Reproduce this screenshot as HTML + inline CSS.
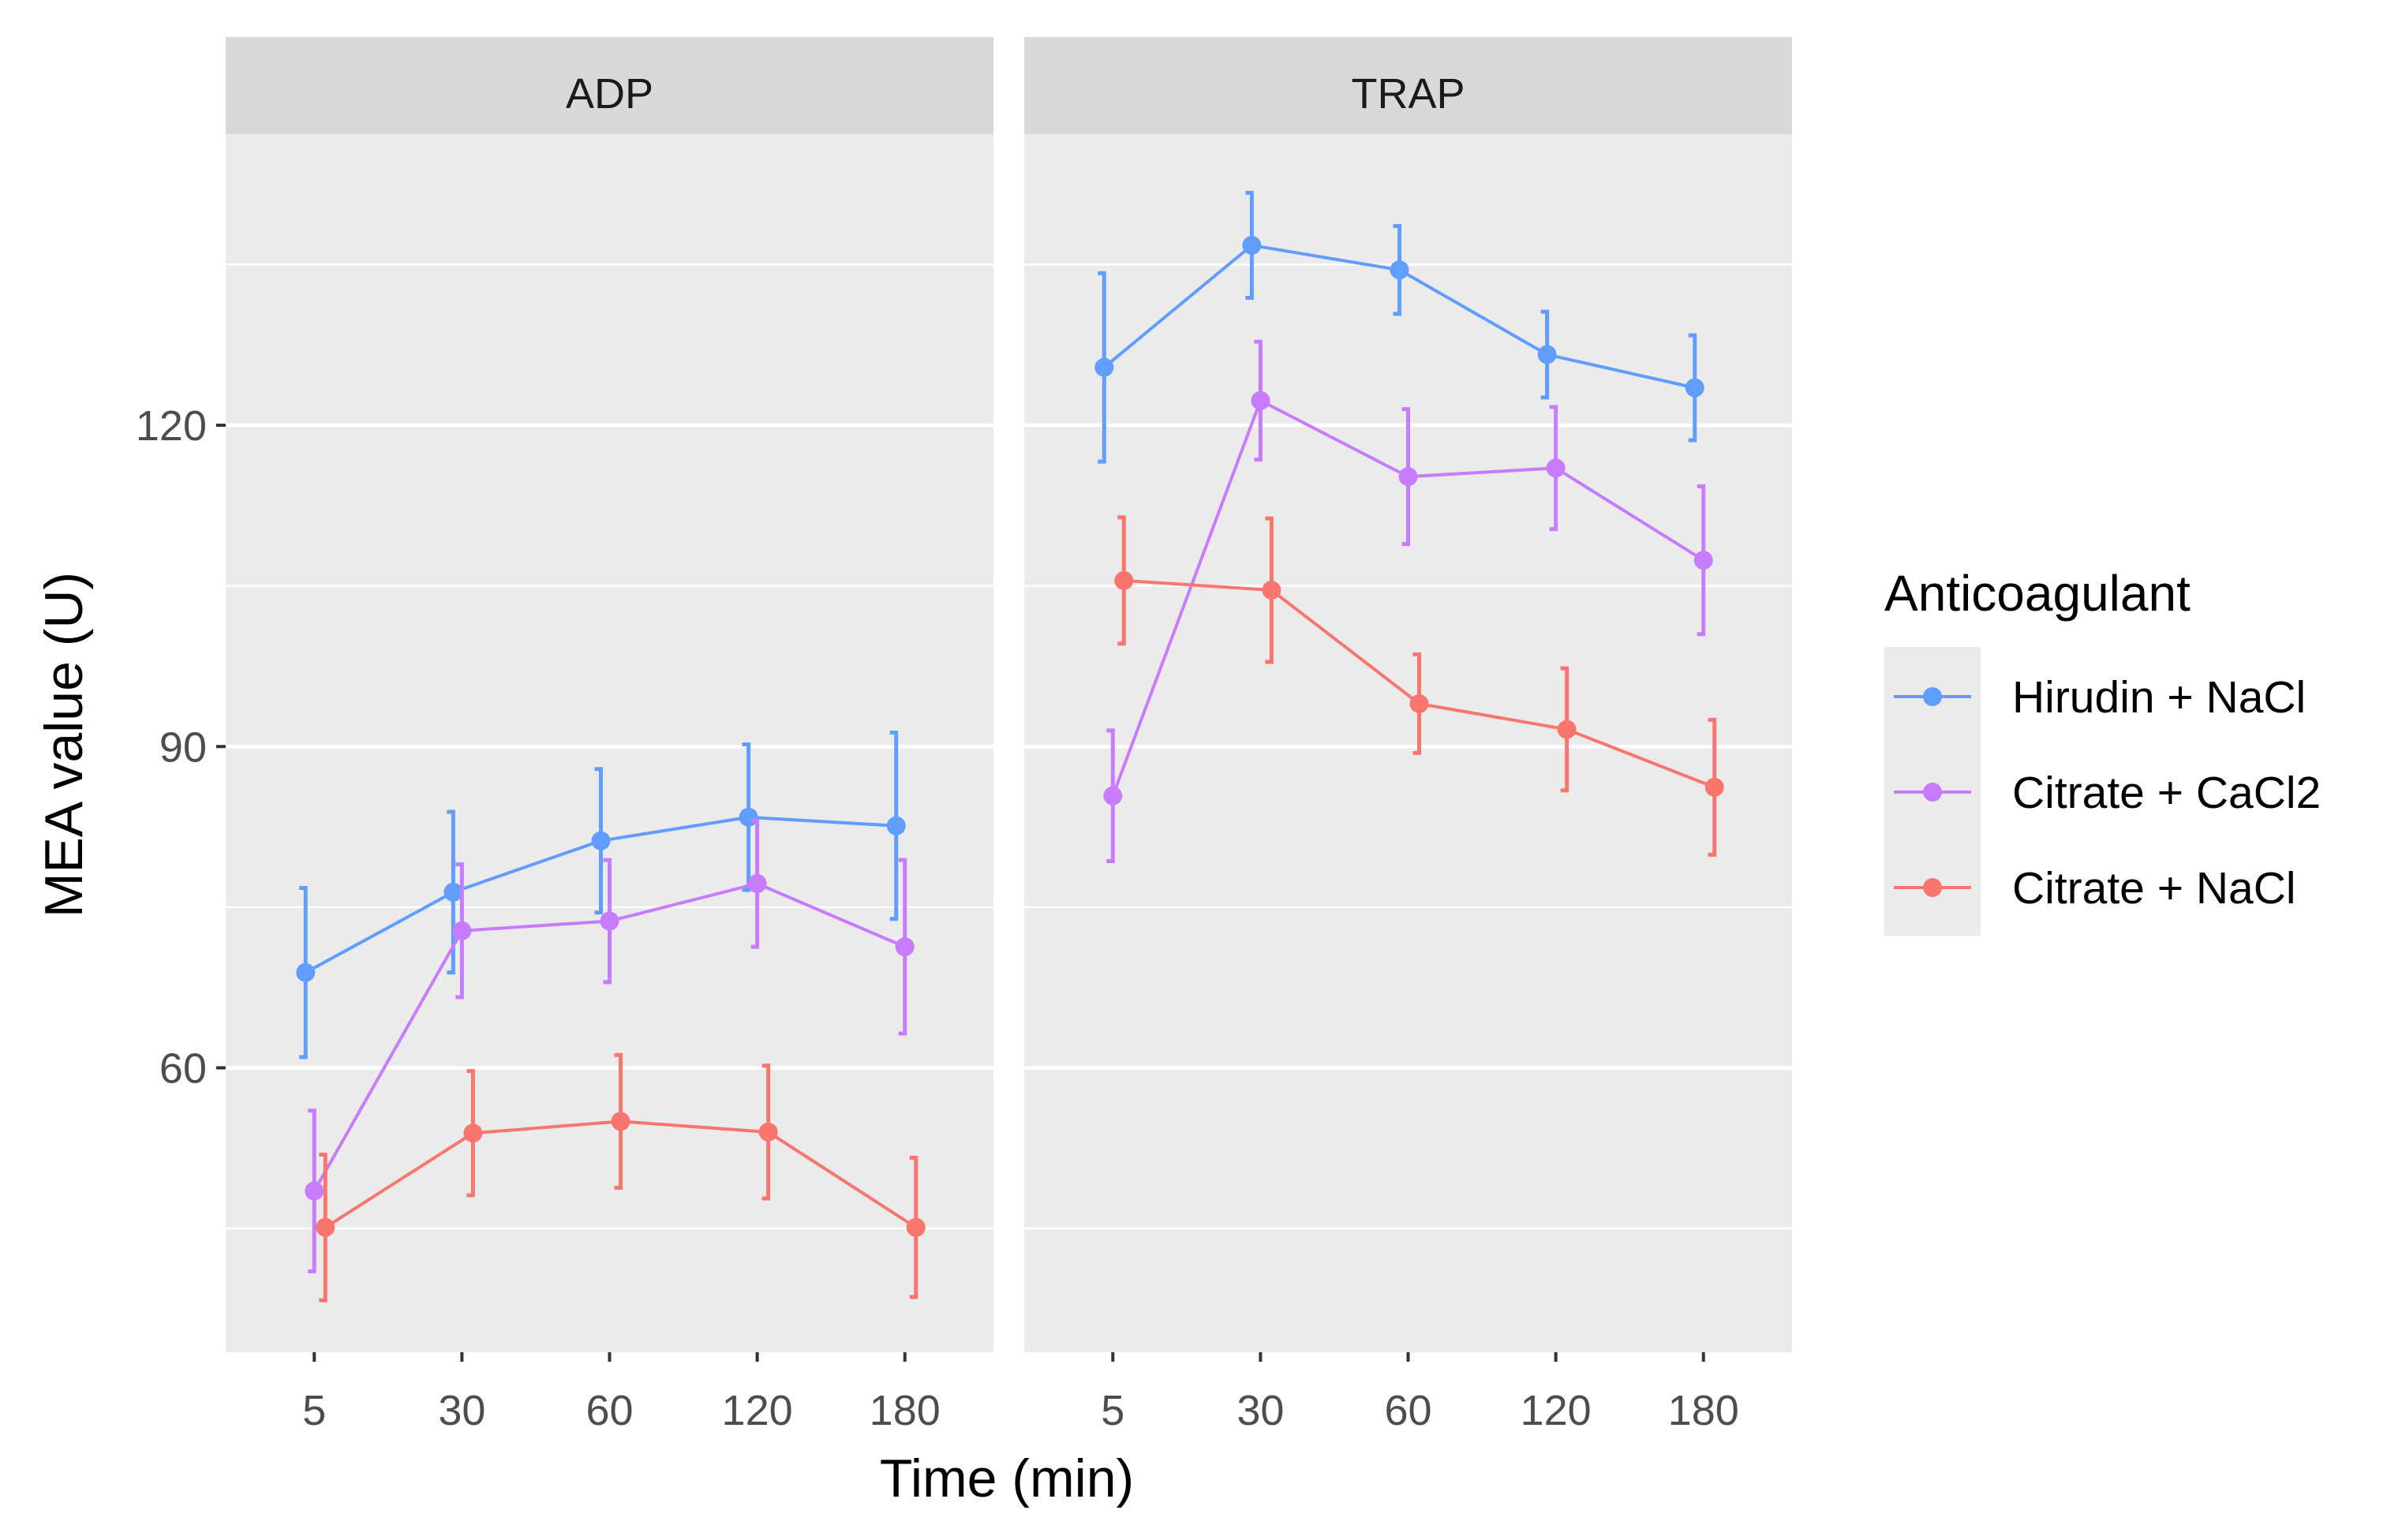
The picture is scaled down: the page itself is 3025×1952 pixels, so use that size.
<!DOCTYPE html>
<html><head><meta charset="utf-8"><style>
html,body{margin:0;padding:0;background:#fff;}
svg text{font-family:"Liberation Sans",Arial,sans-serif;}
</style></head><body>
<svg id="chart" width="3025" height="1947" viewBox="0 0 3025 1947" xmlns="http://www.w3.org/2000/svg">
<g id="panels"></g>
<text x="0" y="0" transform="translate(104,944) rotate(-90)" text-anchor="middle" font-size="68" fill="#000">MEA value (U)</text>
<text x="1276" y="1897" text-anchor="middle" font-size="68" fill="#000">Time (min)</text>
<g>
<text x="2388" y="774" font-size="64" fill="#000">Anticoagulant</text>
<rect x="2388" y="820" width="122" height="366" fill="#ebebeb"/>
<g id="legend-entries"></g>
</g>
</svg>
<script>
const categories = ["5","30","60","120","180"];
const panels = ["ADP","TRAP"];
const seriesNames = ["Hirudin + NaCl","Citrate + CaCl2","Citrate + NaCl"];
const yTicks = [60,90,120];
const yMinor = [45,75,105,135];
// ADP
const adpHirudin = [68.9,76.4,81.2,83.4,82.6];
const adpHirudinErr = [7.9,7.5,6.7,6.8,8.7];
const adpCaCl2 = [48.5,72.8,73.7,77.2,71.3];
const adpCaCl2Err = [7.5,6.2,5.7,5.9,8.1];
const adpNaCl = [45.1,53.9,55.0,54.0,45.1];
const adpNaClErr = [6.8,5.8,6.2,6.2,6.5];
// TRAP
const trapHirudin = [125.4,136.8,134.5,126.6,123.5];
const trapHirudinErr = [8.8,4.9,4.1,4.0,4.9];
const trapCaCl2 = [85.4,122.3,115.2,116.0,107.4];
const trapCaCl2Err = [6.1,5.5,6.3,5.7,6.9];
const trapNaCl = [105.5,104.6,94.0,91.6,86.2];
const trapNaClErr = [5.9,6.7,4.6,5.7,6.3];

const colors = ["#619CFF","#C77CFF","#F8766D"];
const dodge = [-11,0,14];
const panelData = [
  [[adpHirudin,adpHirudinErr],[adpCaCl2,adpCaCl2Err],[adpNaCl,adpNaClErr]],
  [[trapHirudin,trapHirudinErr],[trapCaCl2,trapCaCl2Err],[trapNaCl,trapNaClErr]]
];
const panelLeft = [286,1298];
const panelW = 973, plotTop = 170, plotBot = 1714, stripTop = 47;
const NS = "http://www.w3.org/2000/svg";
function yScale(v){ return 539 + (120 - v) * 13.575; }
function xScale(p, i){ return panelLeft[p] + (0.6 + i) * (panelW / 5.2); }
function mk(tag, attrs, parent){
  const e = document.createElementNS(NS, tag);
  for (const k in attrs) e.setAttribute(k, attrs[k]);
  parent.appendChild(e); return e;
}
const root = document.getElementById('panels');
panels.forEach((pn, p) => {
  const g = mk('g', {}, root);
  
  
  const L = panelLeft[p];
  const bg = mk('rect', {x:L, y:plotTop, width:panelW, height:plotBot-plotTop, fill:'#ebebeb'}, g);
  
  
  const st = mk('rect', {x:L, y:stripTop, width:panelW, height:plotTop-stripTop, fill:'#d9d9d9'}, g);
  
  
  const stt = mk('text', {x:L+panelW/2, y:137, 'text-anchor':'middle', 'font-size':54, fill:'#1a1a1a'}, g);
  stt.textContent = pn;
  
  
  yMinor.forEach(v => {
    const l = mk('line', {x1:L, x2:L+panelW, y1:yScale(v), y2:yScale(v), stroke:'#fff', 'stroke-width':2.5}, g);
    
    
  });
  yTicks.forEach(v => {
    const l = mk('line', {x1:L, x2:L+panelW, y1:yScale(v), y2:yScale(v), stroke:'#fff', 'stroke-width':4.5}, g);
    
    
  });
  categories.forEach((c, i) => {
    const x = xScale(p, i);
    const t = mk('line', {x1:x, x2:x, y1:plotBot, y2:plotBot+12, stroke:'#333', 'stroke-width':4}, g);
    
    
    const tl = mk('text', {x:x, y:1806, 'text-anchor':'middle', 'font-size':54, fill:'#4d4d4d'}, g);
    tl.textContent = c;
    
    
  });
  panelData[p].forEach((sd, s) => {
    const vals = sd[0], errs = sd[1];
    const sg = mk('g', {}, g);
    
    
    const pts = vals.map((v, i) => (xScale(p, i) + dodge[s]) + ',' + yScale(v)).join(' ');
    const pl = mk('polyline', {points:pts, fill:'none', stroke:colors[s], 'stroke-width':4}, sg);
    
    
    vals.forEach((v, i) => {
      const x = xScale(p, i) + dodge[s];
      const y1 = yScale(v + errs[i]), y2 = yScale(v - errs[i]);
      const eb = mk('path', {d:`M${x-8},${y1}H${x}V${y2}H${x-8}`, fill:'none', stroke:colors[s], 'stroke-width':5}, sg);
      
      
      const pt = mk('circle', {cx:x, cy:yScale(v), r:12, fill:colors[s]}, sg);
      
      
    });
  });
});
const ax = mk('g', {}, root);


yTicks.forEach(v => {
  const t = mk('line', {x1:274, x2:286, y1:yScale(v), y2:yScale(v), stroke:'#333', 'stroke-width':4}, ax);
  
  
  const tl = mk('text', {x:262, y:yScale(v)+19, 'text-anchor':'end', 'font-size':54, fill:'#4d4d4d'}, ax);
  tl.textContent = v;
  
  
});
const lg = document.getElementById('legend-entries');
seriesNames.forEach((n, s) => {
  const y = 883 + s * 121;
  const e = mk('g', {}, lg);
  
  
  mk('line', {x1:2400, x2:2498, y1:y, y2:y, stroke:colors[s], 'stroke-width':4}, e);
  mk('circle', {cx:2449, cy:y, r:12, fill:colors[s]}, e);
  const t = mk('text', {x:2550, y:y+20, 'font-size':57, fill:'#000'}, e);
  t.textContent = n;
});
</script>
</body></html>
